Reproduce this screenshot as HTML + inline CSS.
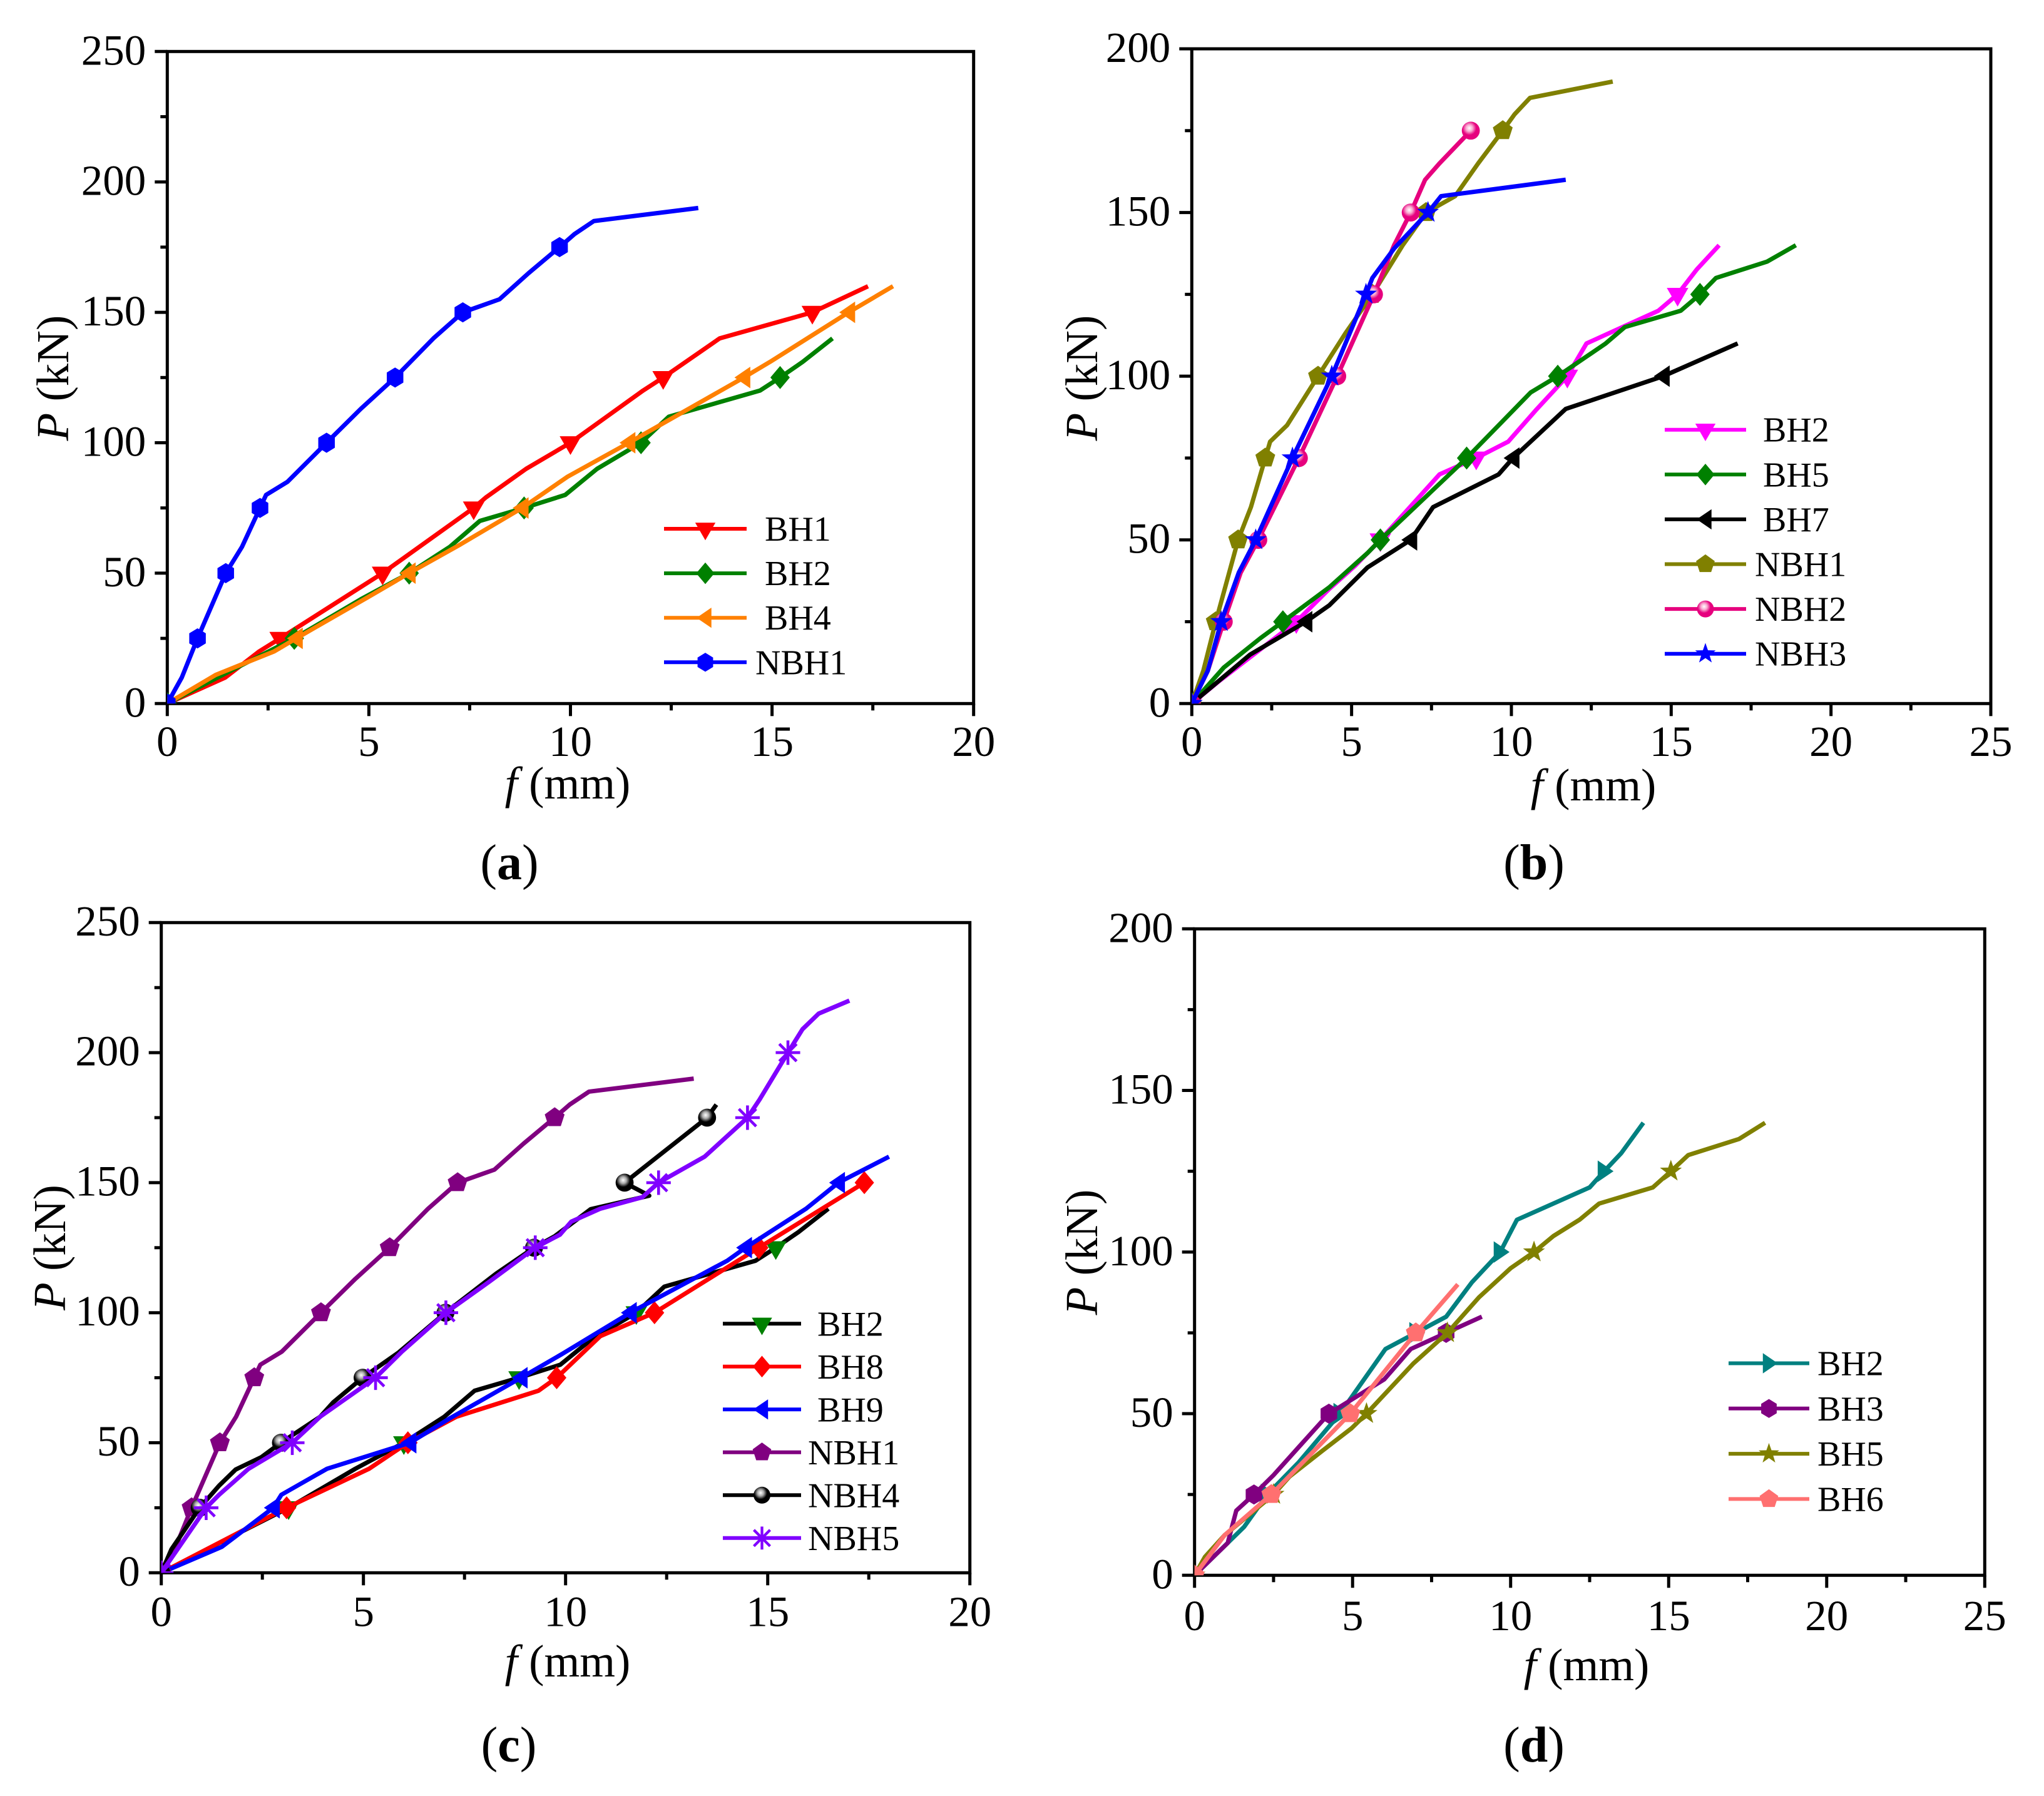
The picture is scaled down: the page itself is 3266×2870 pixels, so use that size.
<!DOCTYPE html>
<html lang="en">
<head>
<meta charset="utf-8">
<title>Load-deflection curves</title>
<style>
html,body{margin:0;padding:0;background:#fff;}
svg{display:block;}
text{font-family:"Liberation Serif",serif;fill:#000;white-space:pre;}
</style>
</head>
<body>
<svg id="figure" xmlns="http://www.w3.org/2000/svg" width="3266" height="2870" viewBox="0 0 3266 2870">
<rect width="3266" height="2870" fill="#fff"></rect>
<defs>
<radialGradient id="sphere-pink" cx="0.42" cy="0.36" r="0.62"><stop offset="0" stop-color="#ffffff"/><stop offset="0.3" stop-color="#f9a8d0"/><stop offset="0.62" stop-color="#e6007e"/><stop offset="1" stop-color="#e6007e"/></radialGradient>
<radialGradient id="sphere-black" cx="0.42" cy="0.36" r="0.62"><stop offset="0" stop-color="#ffffff"/><stop offset="0.3" stop-color="#aaaaaa"/><stop offset="0.62" stop-color="#000000"/><stop offset="1" stop-color="#000000"/></radialGradient>
</defs>
</svg>
<script>
// Tick labels
const xTicks20 = [0, 5, 10, 15, 20];
const xTicks25 = [0, 5, 10, 15, 20, 25];
const yTicks250 = [0, 50, 100, 150, 200, 250];
const yTicks200 = [0, 50, 100, 150, 200];
const markerLoads = [0, 25, 50, 75, 100, 125, 150, 175, 200, 225];

// Shared series
const nbh1F = [0, 0.36, 0.75, 1.45, 1.85, 2.3, 2.45, 2.98, 3.95, 4.8, 5.65, 6.6, 7.33, 8.24, 8.96, 9.73, 10.1, 10.58, 13.17];
const nbh1P = [0, 10, 25, 50, 60, 75, 80, 85, 100, 113, 125, 140, 150, 155, 165, 175, 180, 185, 190];
const sharedBh2F = [0, 1.5, 3.15, 4.8, 6, 7, 7.75, 8.85, 9.87, 10.66, 11.75, 12.44, 14.7, 15.2, 15.76, 16.5];
const sharedBh2P = [0, 12, 25, 40, 50, 60, 70, 75, 80, 90, 100, 110, 120, 125, 131, 140];

// Panel (a)
const aBh1F = [0, 1.44, 2.28, 2.8, 5.34, 7.6, 7.9, 8.9, 10, 10.9, 11.8, 12.3, 13.7, 16, 17.38];
const aBh1P = [0, 10, 20, 25, 50, 75, 79, 90, 100, 110, 120, 125, 140, 150, 160];
const aBh4F = [0, 1.2, 2.65, 3.2, 5, 6, 7.27, 8.8, 9.93, 11.45, 14.3, 14.95, 16.9, 18];
const aBh4P = [0, 11, 20, 25, 41, 50, 61, 75, 87, 100, 125, 131, 150, 160];

// Panel (b)
const bBh2F = [0, 0.82, 3.27, 4.3, 5.1, 5.9, 7.75, 8.9, 9.9, 10.8, 11.75, 12.35, 14.6, 15.2, 15.8, 16.5];
const bBh2P = [0, 6.6, 25, 35, 42, 50, 70, 75, 80, 90, 100, 110, 120, 125, 132.6, 140];
const bBh5F = [0, 1, 2.15, 2.85, 4.3, 5.5, 5.9, 8.6, 10.6, 11.45, 12.95, 13.55, 15.3, 15.9, 16.4, 18, 18.9];
const bBh5P = [0, 11, 20, 25, 35.5, 46, 50, 75, 95, 100, 110, 115, 120, 125, 130, 135, 140];
const bBh7F = [0, 1.83, 3.57, 4.3, 5.5, 6.85, 7.55, 9.6, 10.05, 11.7, 14.75, 17.08];
const bBh7P = [0, 15, 25, 30, 41.6, 50, 60, 70, 75, 90, 100, 110];
const bNbh2F = [0, 0.5, 1, 1.53, 2.08, 3.35, 4.55, 5.7, 6.33, 6.85, 7.3, 7.75, 8.73];
const bNbh2P = [0, 10, 25, 40, 50, 75, 100, 125, 140, 150, 160, 165, 175];
const bNbh3F = [0, 0.5, 0.92, 1.47, 2, 3.15, 4.38, 5.45, 5.65, 6.33, 7.39, 7.8, 11.7];
const bNbh3P = [0, 10, 25, 40, 50, 75, 100, 125, 130, 139, 150, 155, 160];

// Panel (c)
const cBh8F = [0, 3.1, 5.14, 6.1, 7.3, 9.33, 9.78, 10.86, 12.2, 14.78, 17.39];
const cBh8P = [0, 25, 40, 50, 60, 70, 75, 91, 100, 125, 150];
const cBh9F = [0, 1.5, 2.77, 2.97, 4.1, 6.15, 7.15, 8.9, 9.9, 11.6, 14, 14.45, 15.95, 16.75, 18];
const cBh9P = [0, 10, 25, 30, 40, 50, 59.5, 75, 84, 100, 120, 125, 140, 150, 160];
const cNbh4F = [0, 0.25, 0.95, 1.43, 1.84, 2.48, 2.96, 3.93, 4.25, 4.98, 5.87, 7.03, 8.28, 9.22, 9.73, 10.62, 12.07, 11.46, 13.5, 13.73];
const cNbh4P = [0, 9, 25, 33.5, 39.7, 44.5, 50, 60, 65.5, 75, 84.7, 100, 115, 125, 129.4, 139.8, 145, 150, 175, 180];
const cNbh5F = [0, 1.11, 1.43, 2.16, 3.24, 3.93, 5.3, 5.95, 7.04, 8.12, 9.25, 9.86, 10.14, 10.86, 11.9, 12.3, 13.44, 14.5, 14.8, 15.5, 15.86, 16.26, 17.02];
const cNbh5P = [0, 25, 30, 40, 50, 60, 75, 85, 100, 112, 125, 130, 135, 140, 144.4, 150, 160, 175, 182, 200, 209, 215, 220];

// Panel (d)
const dBh2F = [0, 1.57, 2.3, 3.3, 4.6, 6.04, 7, 7.96, 8.78, 9.67, 10.2, 12.5, 12.96, 13.5, 14.2];
const dBh2P = [0, 15, 25, 35, 50, 70, 75, 80, 90.7, 100, 110, 120, 125, 130.6, 140];
const dBh3F = [0, 1.05, 1.32, 1.88, 2.5, 3.3, 4.25, 6, 6.84, 7.96, 9.09];
const dBh3P = [0, 10, 20, 25, 31, 39.7, 50, 60.6, 70, 75, 80];
const dBh5F = [0, 0.33, 0.95, 2.5, 3, 4.04, 4.97, 5.44, 6.92, 8, 9, 10, 10.74, 11.36, 12.18, 12.8, 14.5, 15.07, 15.62, 17.23, 18.05];
const dBh5P = [0, 5.7, 12.4, 25, 30.5, 38.5, 45.5, 50, 65.5, 75, 86, 95, 100, 105, 110, 115, 120, 125, 130, 135, 140];
const dBh6F = [0, 0.95, 2.43, 4.93, 7, 8.33];
const dBh6P = [0, 12.4, 25, 50, 75, 90];

const panels = [
  {id: 'a', left: 267.3, right: 1555.7, top: 82.3, bottom: 1124.3, xTicks: xTicks20, yTicks: yTicks250,
   xTitleX: 907, xTitleY: 1276, yTitleX: 109, yTitleY: 604, capX: 814, capY: 1405, xLabelDy: 83.5, yLabelDy: 21,
   legend: {x1: 1061, x2: 1193, y0: 845, dy: 71.1, bh: 1222, nbh: 1207},
   series: [
     {name: 'BH1', f: aBh1F, p: aBh1P, color: '#ff0000', mark: 'triDown', markColor: '#ff0000'},
     {name: 'BH2', f: sharedBh2F, p: sharedBh2P, color: '#008000', mark: 'diamond', markColor: '#008000'},
     {name: 'BH4', f: aBh4F, p: aBh4P, color: '#ff8000', mark: 'triLeft', markColor: '#ff8000'},
     {name: 'NBH1', f: nbh1F, p: nbh1P, color: '#0000ff', mark: 'hexagon', markColor: '#0000ff'}
   ]},
  {id: 'b', left: 1904.3, right: 3181, top: 78, bottom: 1124.3, xTicks: xTicks25, yTicks: yTicks200,
   xTitleX: 2546, xTitleY: 1279, yTitleX: 1753, yTitleY: 604, capX: 2451, capY: 1405, xLabelDy: 83.5, yLabelDy: 21,
   legend: {x1: 2660, x2: 2790, y0: 686.7, dy: 71.6, bh: 2817, nbh: 2804},
   series: [
     {name: 'BH2', f: bBh2F, p: bBh2P, color: '#ff00ff', mark: 'triDown', markColor: '#ff00ff'},
     {name: 'BH5', f: bBh5F, p: bBh5P, color: '#008000', mark: 'diamond', markColor: '#008000'},
     {name: 'BH7', f: bBh7F, p: bBh7P, color: '#000000', mark: 'triLeft', markColor: '#000000'},
     {name: 'NBH1', f: nbh1F, p: nbh1P, color: '#808000', mark: 'pentagon', markColor: '#808000'},
     {name: 'NBH2', f: bNbh2F, p: bNbh2P, color: '#e6007e', mark: 'sphere', markColor: 'url(#sphere-pink)'},
     {name: 'NBH3', f: bNbh3F, p: bNbh3P, color: '#0000ff', mark: 'star', markColor: '#0000ff'}
   ]},
  {id: 'c', left: 257.7, right: 1549.7, top: 1474.3, bottom: 2513.3, xTicks: xTicks20, yTicks: yTicks250,
   xTitleX: 907, xTitleY: 2679, yTitleX: 104, yTitleY: 1993.5, capX: 813, capY: 2815, xLabelDy: 85, yLabelDy: 20.5,
   legend: {x1: 1155, x2: 1280, y0: 2115.3, dy: 68.5, bh: 1306, nbh: 1291},
   series: [
     {name: 'BH2', f: sharedBh2F, p: sharedBh2P, color: '#000000', mark: 'triDown', markColor: '#008000'},
     {name: 'BH8', f: cBh8F, p: cBh8P, color: '#ff0000', mark: 'diamond', markColor: '#ff0000'},
     {name: 'BH9', f: cBh9F, p: cBh9P, color: '#0000ff', mark: 'triLeft', markColor: '#0000ff'},
     {name: 'NBH1', f: nbh1F, p: nbh1P, color: '#800080', mark: 'pentagon', markColor: '#800080'},
     {name: 'NBH4', f: cNbh4F, p: cNbh4P, color: '#000000', mark: 'sphere', markColor: 'url(#sphere-black)'},
     {name: 'NBH5', f: cNbh5F, p: cNbh5P, color: '#8000ff', mark: 'asterisk', markColor: '#8000ff'}
   ]},
  {id: 'd', left: 1908.7, right: 3171.3, top: 1484.3, bottom: 2517.3, xTicks: xTicks25, yTicks: yTicks200,
   xTitleX: 2535, xTitleY: 2685, yTitleX: 1753, yTitleY: 2001, capX: 2451, capY: 2815, xLabelDy: 87.7, yLabelDy: 21,
   legend: {x1: 2762, x2: 2891, y0: 2178.5, dy: 72.3, bh: 2904, nbh: 2904},
   series: [
     {name: 'BH2', f: dBh2F, p: dBh2P, color: '#008080', mark: 'triRight', markColor: '#008080'},
     {name: 'BH3', f: dBh3F, p: dBh3P, color: '#800080', mark: 'hexagon', markColor: '#800080'},
     {name: 'BH5', f: dBh5F, p: dBh5P, color: '#808000', mark: 'star', markColor: '#808000'},
     {name: 'BH6', f: dBh6F, p: dBh6P, color: '#ff7070', mark: 'pentagon', markColor: '#ff7070'}
   ]}
];

const NS = 'http://www.w3.org/2000/svg';
const root = document.getElementById('figure');
const dataMarkerScale = 1.15;
const tickFontSize = 69;
const seriesStroke = 7;

function make(tag, parent, attrs) {
  const el = document.createElementNS(NS, tag);
  Object.keys(attrs || {}).forEach(function (k) { el.setAttribute(k, attrs[k]); });
  parent.appendChild(el);
  return el;
}

function polar(count, radius, inner) {
  const pts = [];
  const total = inner ? count * 2 : count;
  for (let i = 0; i < total; i++) {
    const r = inner && i % 2 ? inner : radius;
    const a = -Math.PI / 2 + i * 2 * Math.PI / total;
    pts.push((r * Math.cos(a)).toFixed(2) + ',' + (r * Math.sin(a)).toFixed(2));
  }
  return pts.join(' ');
}

const shapePoints = {
  triDown: '-15,-9 15,-9 0,17',
  triLeft: '-13,0 9,-15 9,15',
  triRight: '13,0 -9,-15 -9,15',
  diamond: '0,-16 13.5,0 0,16 -13.5,0',
  hexagon: '0,-14 11.5,-7 11.5,7 0,14 -11.5,7 -11.5,-7',
  pentagon: polar(5, 14.5),
  star: polar(5, 16, 6.4)
};

function drawMarker(parent, kind, color, cx, cy, scale, label) {
  const g = make('g', parent, {transform: 'translate(' + cx.toFixed(2) + ' ' + cy.toFixed(2) + ') scale(' + scale + ')'});
  
  
  if (kind === 'sphere') {
    make('circle', g, {r: 12.5, fill: color});
  } else if (kind === 'asterisk') {
    [0, 45, 90, 135].forEach(function (deg) {
      make('line', g, {x1: -17, y1: 0, x2: 17, y2: 0, stroke: color, 'stroke-width': 4, transform: 'rotate(' + deg + ')'});
    });
  } else {
    make('polygon', g, {points: shapePoints[kind], fill: color});
  }
}

function addRichText(parent, attrs, parts, label) {
  const t = make('text', parent, attrs);
  
  
  parts.forEach(function (part) {
    const s = make('tspan', t, part.style || {});
    s.textContent = part.text;
  });
  return t;
}

function drawPanel(panel) {
  const g = make('g', root, {});
  
  

  const xMax = panel.xTicks[panel.xTicks.length - 1];
  const yMax = panel.yTicks[panel.yTicks.length - 1];
  const xPos = function (v) { return panel.left + v / xMax * (panel.right - panel.left); };
  const yPos = function (v) { return panel.bottom - v / yMax * (panel.bottom - panel.top); };

  // Axes
  const axes = make('g', g, {stroke: '#000', 'stroke-width': 5, fill: 'none'});
  
  
  const frame = make('rect', axes, {x: panel.left, y: panel.top, width: panel.right - panel.left, height: panel.bottom - panel.top});
  
  

  panel.xTicks.forEach(function (v, i) {
    const tick = make('line', axes, {x1: xPos(v), x2: xPos(v), y1: panel.bottom, y2: panel.bottom + 20});
    
    
    if (i < panel.xTicks.length - 1) {
      const mid = (v + panel.xTicks[i + 1]) / 2;
      const minor = make('line', axes, {x1: xPos(mid), x2: xPos(mid), y1: panel.bottom, y2: panel.bottom + 11});
      
      
    }
    const label = make('text', g, {x: xPos(v), y: panel.bottom + panel.xLabelDy, 'font-size': tickFontSize, 'text-anchor': 'middle'});
    
    
    label.textContent = String(v);
  });

  panel.yTicks.forEach(function (v, i) {
    const tick = make('line', axes, {y1: yPos(v), y2: yPos(v), x1: panel.left, x2: panel.left - 20});
    
    
    if (i < panel.yTicks.length - 1) {
      const mid = (v + panel.yTicks[i + 1]) / 2;
      const minor = make('line', axes, {y1: yPos(mid), y2: yPos(mid), x1: panel.left, x2: panel.left - 11});
      
      
    }
    const label = make('text', g, {x: panel.left - 34, y: yPos(v) + panel.yLabelDy, 'font-size': tickFontSize, 'text-anchor': 'end'});
    
    
    label.textContent = String(v);
  });

  // Titles and caption
  addRichText(g, {x: panel.xTitleX, y: panel.xTitleY, 'font-size': 73, 'text-anchor': 'middle'},
    [{text: 'f', style: {'font-style': 'italic'}}, {text: ' (mm)'}], 'x-axis-title');
  addRichText(g, {x: panel.yTitleX, y: panel.yTitleY, 'font-size': 73, 'text-anchor': 'middle',
      transform: 'rotate(-90 ' + panel.yTitleX + ' ' + panel.yTitleY + ')'},
    [{text: 'P', style: {'font-style': 'italic'}}, {text: ' (kN)'}], 'y-axis-title');
  addRichText(g, {x: panel.capX, y: panel.capY, 'font-size': 80, 'text-anchor': 'middle'},
    [{text: '('}, {text: panel.id, style: {'font-weight': 'bold'}}, {text: ')'}], 'panel-caption');

  // Series
  const clipId = 'clip-' + panel.id;
  const clip = make('clipPath', g, {id: clipId});
  make('rect', clip, {x: panel.left, y: panel.top, width: panel.right - panel.left, height: panel.bottom - panel.top});
  const plot = make('g', g, {'clip-path': 'url(#' + clipId + ')'});
  
  

  panel.series.forEach(function (s) {
    const sg = make('g', plot, {});
    
    
    const pts = s.f.map(function (v, i) { return xPos(v).toFixed(2) + ',' + yPos(s.p[i]).toFixed(2); }).join(' ');
    const line = make('polyline', sg, {points: pts, fill: 'none', stroke: s.color, 'stroke-width': seriesStroke, 'stroke-linejoin': 'round'});
    
    
    const maxP = Math.max.apply(null, s.p);
    markerLoads.forEach(function (level) {
      if (level > maxP) return;
      let best = 0;
      s.p.forEach(function (val, i) { if (Math.abs(val - level) < Math.abs(s.p[best] - level)) best = i; });
      drawMarker(sg, s.mark, s.markColor, xPos(s.f[best]), yPos(s.p[best]), dataMarkerScale, 'data-point-' + s.name.toLowerCase());
    });
  });

  // Legend
  const lg = make('g', g, {});
  
  
  panel.series.forEach(function (s, i) {
    const y = panel.legend.y0 + i * panel.legend.dy;
    const entry = make('g', lg, {});
    
    
    make('line', entry, {x1: panel.legend.x1, x2: panel.legend.x2, y1: y, y2: y, stroke: s.color, 'stroke-width': 6});
    drawMarker(entry, s.mark, s.markColor, (panel.legend.x1 + panel.legend.x2) / 2, y, 1.08, 'legend-marker');
    const tx = make('text', entry, {x: s.name.charAt(0) === 'N' ? panel.legend.nbh : panel.legend.bh, y: y + 19, 'font-size': 56});
    
    
    tx.textContent = s.name;
  });
}

panels.forEach(drawPanel);
</script>
</body>
</html>
